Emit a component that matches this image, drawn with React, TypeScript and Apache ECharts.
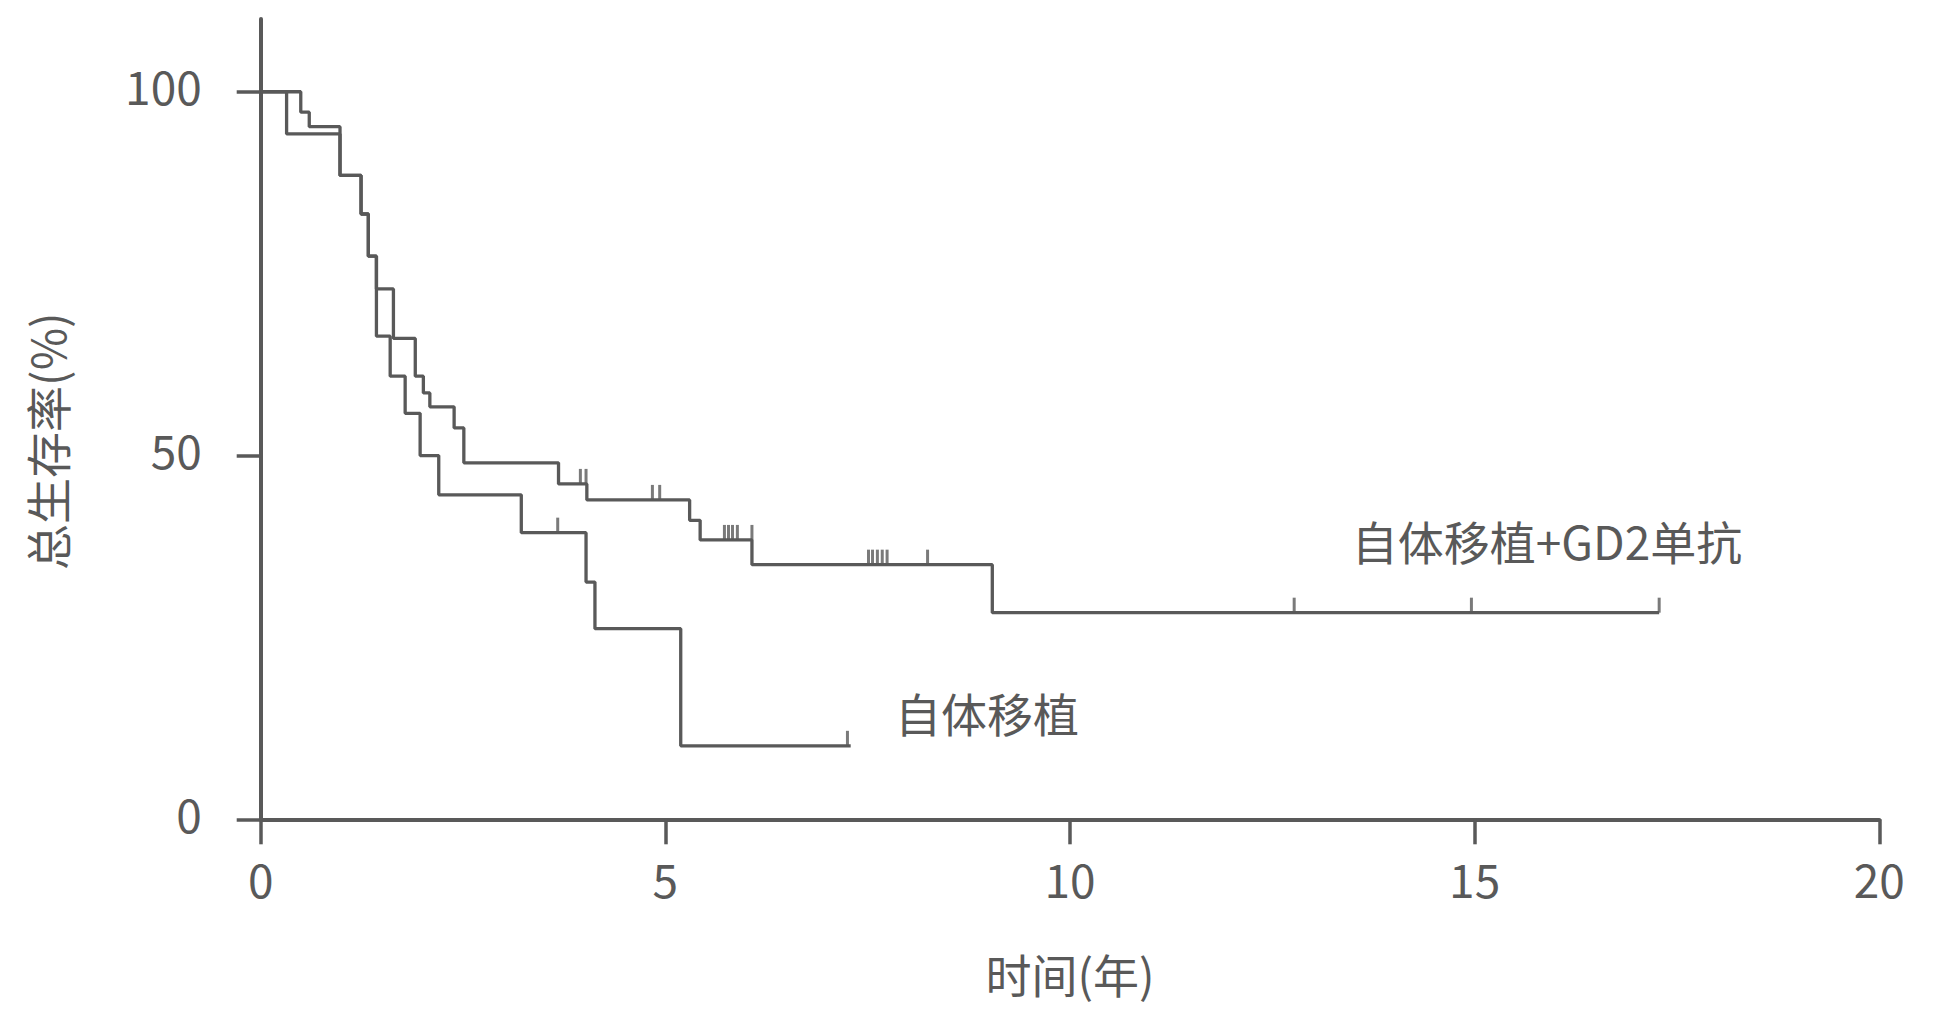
import React, { useEffect, useRef } from "react";
import * as echarts from "echarts";

const FONT = '"Noto Sans CJK SC", "Noto Sans", sans-serif';
const INK = "#595959";
const FS = 46;

// Axis ticks
const xTicks = [0, 5, 10, 15, 20];
const yTicks = [0, 50, 100];

// 自体移植 (autologous transplant) – event times (years) and survival (%) after each drop
const autoTimes = [0.32, 0.98, 1.24, 1.33, 1.43, 1.6, 1.785, 1.97, 2.2, 3.22, 4.02, 4.13, 5.19];
const autoSurv = [94.2, 88.5, 83.2, 77.4, 66.4, 60.9, 55.8, 50.0, 44.6, 39.4, 32.6, 26.2, 10.1];
const autoCensor = [3.67, 7.25];
const autoEnd = 7.29;

// 自体移植+GD2单抗
const gd2Times = [0.495, 0.6, 0.98, 1.24, 1.33, 1.43, 1.64, 1.91, 2.01, 2.09, 2.39, 2.51, 3.68, 4.03, 5.3, 5.43, 6.07, 9.04];
const gd2Surv = [97.2, 95.2, 88.5, 83.2, 77.4, 72.9, 66.1, 60.9, 58.6, 56.7, 53.8, 49.0, 46.1, 43.9, 41.1, 38.4, 35.0, 28.4];
const gd2Censor = [3.95, 4.02, 4.84, 4.93, 5.73, 5.78, 5.83, 5.89, 6.07, 7.51, 7.56, 7.62, 7.68, 7.74, 8.24, 12.77, 14.96, 17.28];
const gd2End = 17.28;

const seriesNames = ["自体移植", "自体移植+GD2单抗"];

function stepPoints(times: number[], surv: number[], end: number) {
  const pts: number[][] = [[0, 100]];
  let prev = 100;
  times.forEach((t, i) => {
    pts.push([t, prev]);
    pts.push([t, surv[i]]);
    prev = surv[i];
  });
  pts.push([end, prev]);
  return pts;
}

function survAt(times: number[], surv: number[], t: number) {
  let s = 100;
  times.forEach((tt, i) => {
    if (tt < t) s = surv[i];
  });
  return s;
}

function censorPoints(times: number[], surv: number[], cens: number[]) {
  return cens.map((c) => [c, survAt(times, surv, c)]);
}

export default function App() {
  const ref = useRef<HTMLDivElement>(null);
  useEffect(() => {
    if (!ref.current) return;
    const chart = echarts.init(ref.current, undefined, { renderer: "svg" });
    const lineStyle = { color: INK, width: 3.3 };
    const censorStyle = {
      type: "scatter",
      symbol: "rect",
      symbolSize: [3, 15],
      symbolOffset: [0, "-50%"],
      itemStyle: { color: INK },
      z: 3,
    };
    chart.setOption({
      animation: false,
      backgroundColor: "#ffffff",
      textStyle: { fontFamily: FONT, color: INK },
      grid: { left: 260.7, right: 55.7, top: 19, bottom: 207.7, containLabel: false },
      xAxis: {
        type: "value",
        min: 0,
        max: 20,
        interval: 5,
        name: "时间(年)",
        nameLocation: "middle",
        nameGap: 131,
        nameTextStyle: { fontSize: FS, color: INK, fontFamily: FONT },
        axisLine: { show: true, onZero: false, lineStyle: { color: INK, width: 4 } },
        axisTick: { show: true, length: 25, customValues: xTicks, lineStyle: { color: INK, width: 3.5 } },
        axisLabel: { show: true, margin: 36, fontSize: FS, color: INK, fontFamily: FONT, customValues: xTicks },
        splitLine: { show: false },
      },
      yAxis: {
        type: "value",
        min: 0,
        max: 110,
        name: "总生存率(%)",
        nameLocation: "middle",
        nameGap: 192,
        nameTextStyle: { fontSize: FS, color: INK, fontFamily: FONT, padding: [0, 44, 0, 0] },
        axisLine: { show: true, onZero: false, lineStyle: { color: INK, width: 4 } },
        axisTick: { show: true, length: 24, customValues: yTicks, lineStyle: { color: INK, width: 3.5 } },
        axisLabel: {
          show: true,
          margin: 59,
          fontSize: FS,
          color: INK,
          fontFamily: FONT,
          customValues: yTicks,
          verticalAlign: "bottom",
          lineHeight: 13,
        },
        splitLine: { show: false },
      },
      series: [
        {
          name: seriesNames[0],
          type: "line",
          data: stepPoints(autoTimes, autoSurv, autoEnd),
          showSymbol: false,
          symbol: "none",
          lineStyle,
          z: 2,
        },
        {
          name: seriesNames[1],
          type: "line",
          data: stepPoints(gd2Times, gd2Surv, gd2End),
          showSymbol: false,
          symbol: "none",
          lineStyle,
          z: 2,
        },
        { ...censorStyle, name: seriesNames[0] + " 删失", data: censorPoints(autoTimes, autoSurv, autoCensor) },
        { ...censorStyle, name: seriesNames[1] + " 删失", data: censorPoints(gd2Times, gd2Surv, gd2Censor) },
      ],
      graphic: [
        {
          type: "text",
          x: 1547,
          y: 540,
          style: {
            text: seriesNames[1],
            fontSize: FS,
            fontFamily: FONT,
            fill: INK,
            align: "center",
            verticalAlign: "middle",
          },
        },
        {
          type: "text",
          x: 987,
          y: 712,
          style: {
            text: seriesNames[0],
            fontSize: FS,
            fontFamily: FONT,
            fill: INK,
            align: "center",
            verticalAlign: "middle",
          },
        },
      ],
    });
    return () => chart.dispose();
  }, []);
  return (
    <div
      ref={ref}
      style={{ position: "fixed", left: 0, top: 0, width: "1935px", height: "1027px", background: "#fff" }}
    />
  );
}
